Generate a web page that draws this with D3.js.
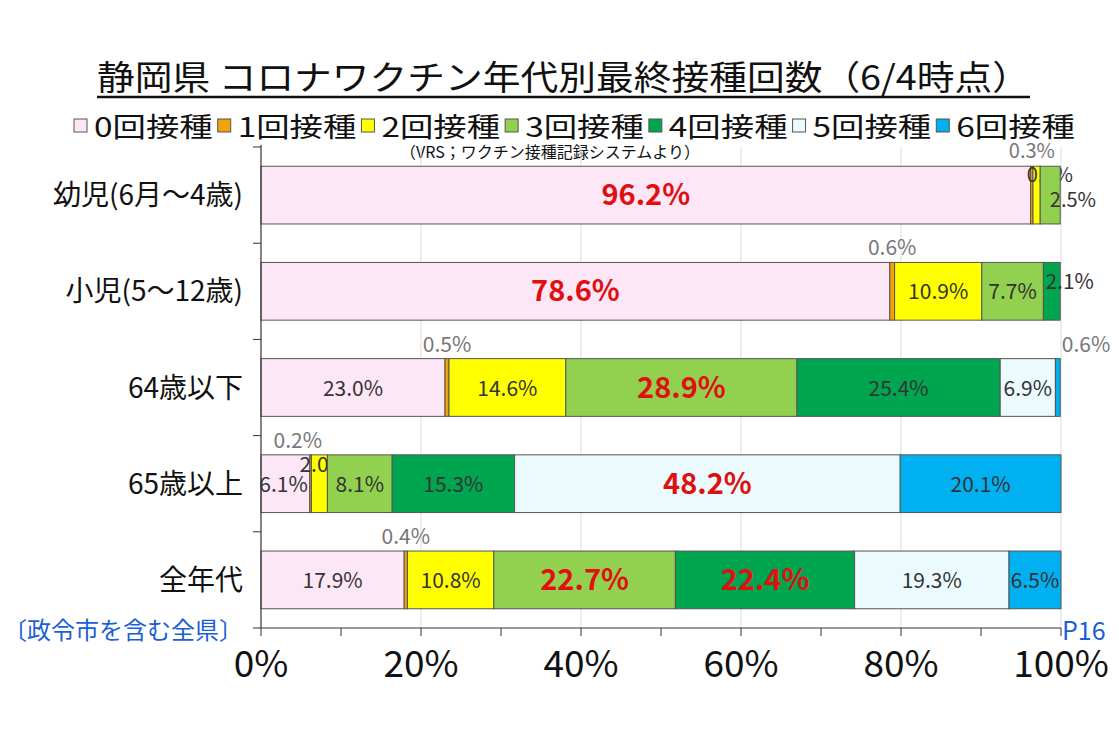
<!DOCTYPE html><html><head><meta charset="utf-8"><script src="https://cdn.jsdelivr.net/npm/d3@7"></script>
<style>body{margin:0;background:#fff}text{font-family:"Noto Sans CJK JP","Noto Sans",sans-serif}</style></head><body><svg width="1119" height="741"></svg><script>
const title="静岡県 コロナワクチン年代別最終接種回数（6/4時点）";
const categories=["幼児(6月～4歳)","小児(5～12歳)","64歳以下","65歳以上","全年代"];
const seriesNames=["0回接種","1回接種","2回接種","3回接種","4回接種","5回接種","6回接種"];
const colors=["#fde6f6","#f0a30a","#ffff00","#92d050","#00a550","#eafafd","#00b0f0"];
const values=[
 [96.2,0.3,0.9,2.5,0,0,0],
 [78.6,0.6,10.9,7.7,2.1,0,0],
 [23.0,0.5,14.6,28.9,25.4,6.9,0.6],
 [6.1,0.2,2.0,8.1,15.3,48.2,20.1],
 [17.9,0.4,10.8,22.7,22.4,19.3,6.5]];
const highlight=[[96.2],[78.6],[28.9],[48.2],[22.7,22.4]];
const ticks=[0,20,40,60,80,100];
const svg=d3.select("svg");
const x=d3.scaleLinear().domain([0,100]).range([261,1061]);
const y=d3.scaleBand().domain(categories).range([147,628]).paddingInner(0.4).paddingOuter(0.2);
const t=svg.append("text").attr("x",97).attr("y",90).attr("font-size",34).attr("fill","#111").attr("textLength",933).attr("lengthAdjust","spacingAndGlyphs").text(title);
svg.append("line").attr("x1",97).attr("x2",1030).attr("y1",97).attr("y2",97).attr("stroke","#111").attr("stroke-width",2.5);
// legend
const lw=(1080-74)/7;
seriesNames.forEach((n,i)=>{const lx=74+i*lw;const g=svg.append("g");
 g.append("rect").attr("x",lx).attr("y",119).attr("width",13).attr("height",13).attr("fill",colors[i]).attr("stroke","#555");
 g.append("text").attr("x",lx+20).attr("y",137).attr("font-size",27).attr("fill","#111").attr("textLength",lw-25).attr("lengthAdjust","spacingAndGlyphs").text(n);});
svg.append("text").attr("x",550).attr("y",158).attr("text-anchor","middle").attr("font-size",16).attr("fill","#111").text("（VRS；ワクチン接種記録システムより）");
svg.append("g").selectAll("line").data(ticks.slice(1)).join("line").attr("x1",d=>x(d)).attr("x2",d=>x(d)).attr("y1",147).attr("y2",628).attr("stroke","#ddd");
categories.forEach((c,ri)=>{let cum=0;const by=y(c),bh=y.bandwidth();
 values[ri].forEach((v,si)=>{ if(v<=0){return;}
  svg.append("rect").attr("x",x(cum)).attr("y",by).attr("width",x(cum+v)-x(cum)).attr("height",bh).attr("fill",colors[si]).attr("stroke","#555").attr("stroke-width",1);
  const mid=x(cum+v/2);let lxp=mid,ly=by+bh/2+8,fs=21,fill="#333",anchor="middle",weight="normal";
  if(highlight[ri].includes(v)){fs=29;fill="#e01010";weight="bold";ly=by+bh/2+10;}
  if(v<1){ly=by-7;fill="#777";fs=21;}
  if(ri===0&&si===2){ly=by+bh/2-13;lxp=x(100)+12;anchor="end";fs=20;fill="#333"}
  if(ri===0&&si===3){ly=by+bh/2+12;lxp=x(100)+35;anchor="end";fs=20}
  if(ri===0&&si===1){lxp=x(100)-6;anchor="end";ly=by-8;fs=20}
  if(ri===1&&si===4){lxp=x(cum)+2;anchor="start";ly=by+bh/2-2}
  if(ri===2&&si===6){lxp=x(100)+25;anchor="middle";fs=21;fill="#777"}
  if(ri===3&&si===0){lxp=x(cum+v)-2;anchor="end";fs=21}
  if(ri===3&&si===2){ly=by+17;lxp=x(cum)-12;anchor="start";fs=21}
  if(ri===3&&si===1){lxp=x(cum)-12;}
  svg.append("text").attr("x",lxp).attr("y",ly).attr("text-anchor",anchor).attr("font-size",fs).attr("font-weight",weight).attr("fill",fill).text(v.toFixed(1)+"%");
  cum+=v;});
});
svg.append("line").attr("x1",261).attr("x2",261).attr("y1",145).attr("y2",628).attr("stroke","#333").attr("stroke-width",1.2);
svg.append("line").attr("x1",261).attr("x2",1061).attr("y1",628).attr("y2",628).attr("stroke","#333").attr("stroke-width",1.2);
const ysteps=d3.range(categories.length+1).map(i=>147+i*(628-147)/categories.length);
svg.append("g").selectAll("line").data(ysteps).join("line").attr("x1",253).attr("x2",261).attr("y1",d=>d).attr("y2",d=>d).attr("stroke","#333");
svg.append("g").selectAll("line").data(d3.range(0,101,10)).join("line").attr("x1",d=>x(d)).attr("x2",d=>x(d)).attr("y1",628).attr("y2",636).attr("stroke","#333");
svg.append("g").selectAll("text").data(ticks).join("text").attr("x",d=>x(d)).attr("y",677).attr("text-anchor","middle").attr("font-size",37).attr("fill","#111").text(d=>d+"%");
svg.append("g").selectAll("text").data(categories).join("text").attr("x",243).attr("y",d=>y(d)+y.bandwidth()/2+10).attr("text-anchor","end").attr("font-size",28).attr("fill","#111").text(d=>d);
svg.append("text").attr("x",3).attr("y",639).attr("font-size",24).attr("fill","#1a5fd6").text("〔政令市を含む全県〕");
svg.append("text").attr("x",1062).attr("y",640).attr("font-size",25).attr("fill","#1a5fd6").text("P16");
</script></body></html>
